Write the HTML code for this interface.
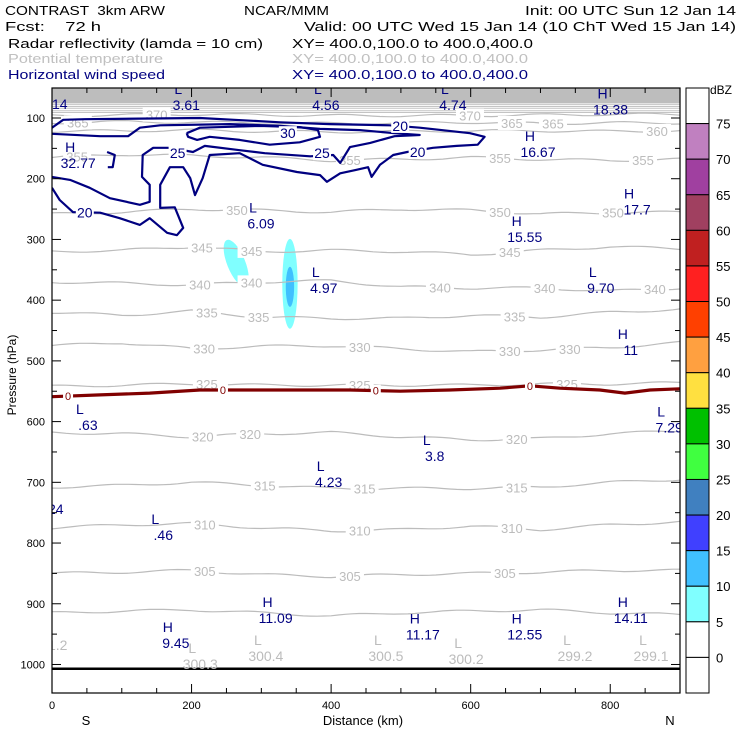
<!DOCTYPE html>
<html><head><meta charset="utf-8"><style>
html,body{margin:0;padding:0;background:#fff;}
svg{display:block;font-family:"Liberation Sans",sans-serif;}
</style></head><body>
<svg id="chart" width="740" height="740" viewBox="0 0 740 740" xmlns="http://www.w3.org/2000/svg">
<g font-size="13">
<text x="5" y="15" textLength="160" lengthAdjust="spacingAndGlyphs" xml:space="preserve" style="white-space:pre">CONTRAST  3km ARW</text>
<text x="244" y="15" textLength="85" lengthAdjust="spacingAndGlyphs">NCAR/MMM</text>
<text x="525" y="15" textLength="211" lengthAdjust="spacingAndGlyphs">Init: 00 UTC Sun 12 Jan 14</text>
<text x="5" y="31" textLength="96" lengthAdjust="spacingAndGlyphs" xml:space="preserve" style="white-space:pre">Fcst:    72 h</text>
<text x="304" y="31" textLength="432" lengthAdjust="spacingAndGlyphs">Valid: 00 UTC Wed 15 Jan 14 (10 ChT Wed 15 Jan 14)</text>
<text x="8" y="48" textLength="255" lengthAdjust="spacingAndGlyphs">Radar reflectivity (lamda = 10 cm)</text>
<text x="292" y="48" textLength="241" lengthAdjust="spacingAndGlyphs">XY= 400.0,100.0 to 400.0,400.0</text>
<text x="8" y="63" fill="#c0c0c0" textLength="155" lengthAdjust="spacingAndGlyphs">Potential temperature</text>
<text x="292" y="63" fill="#c0c0c0" textLength="236" lengthAdjust="spacingAndGlyphs">XY= 400.0,100.0 to 400.0,400.0</text>
<text x="8" y="79" fill="#000080" textLength="157" lengthAdjust="spacingAndGlyphs">Horizontal wind speed</text>
<text x="292" y="79" fill="#000080" textLength="236" lengthAdjust="spacingAndGlyphs">XY= 400.0,100.0 to 400.0,400.0</text>
</g>
<defs><clipPath id="plotclip"><rect x="52" y="88" width="628" height="605"/></clipPath></defs>
<g id="plot" clip-path="url(#plotclip)"></g>
<g id="axes"></g>
<g id="cbar"></g>
</svg>
<script>
// ---- data ----
const stationsKm = [0,100,200,300,400,500,600,700,800,900];
const thetaLevels = [370,365,360,355,350,345,340,335,330,325,320,315,310,305,300];
const thetaP370 = [96,95,94,95,96,96,96,95,94,94];
const thetaP365 = [108,106,107,108,109,108,107,109,108,108];
const thetaP360 = [122,121,120,122,123,122,121,121,122,121];
const thetaP355 = [165,160,162,165,170,168,165,168,170,168];
const thetaP350 = [258,255,250,252,255,250,252,258,256,255];
const thetaP345 = [320,318,312,320,318,320,325,318,312,315];
const thetaP340 = [370,372,375,370,368,378,380,380,385,380];
const thetaP335 = [420,425,418,428,430,430,425,428,420,415];
const thetaP330 = [475,470,480,476,475,480,485,482,478,470];
const thetaP325 = [542,540,538,540,540,540,540,538,538,536];
const thetaP320 = [618,620,625,620,618,625,630,628,620,615];
const thetaP315 = [708,705,700,705,710,710,710,708,700,695];
const thetaP310 = [775,770,768,775,780,778,772,778,770,765];
const thetaP305 = [850,848,845,852,855,852,850,848,845,845];
const thetaP300 = [915,912,910,915,920,915,912,910,915,918];
const thetaLabelKm = {370:[150,599],365:[37,659,718],360:[867],355:[36,427,642,847],350:[265,642,804],345:[215,286,656],340:[212,286,556,706,864],335:[222,296,663],330:[218,441,656,742],325:[222,441,738],320:[216,284,666],315:[305,448,666],310:[219,441,659],305:[219,427,649]};
const upperLineP = [78,81,84,88,91];
const wind20 = [[0,116],[16,103],[47,102],[212,100],[327,107],[398,110],[484,112],[527,116],[599,125],[620,131],[610,144],[580,146],[546,149],[509,156],[489,161],[470,177],[458,197],[453,181],[434,186],[413,191],[394,205],[384,194],[351,189],[302,177],[269,158],[226,161],[216,199],[205,227],[198,199],[188,181],[169,181],[155,210],[155,248],[176,247],[188,281],[179,293],[165,289],[140,265],[126,276],[97,265],[69,256],[30,255],[11,235],[0,215]];
const wind25 = [[0,197],[26,202],[54,215],[83,232],[126,243],[140,238],[140,210],[129,197],[130,161],[145,149],[169,149],[202,156],[219,146],[269,153],[305,158],[370,163],[403,161],[413,174],[427,148],[456,141],[491,130],[527,128],[491,125],[441,120],[384,118],[327,113],[255,110],[155,112],[126,116],[109,130],[69,130],[0,126]];
const wind30 = [[193,125],[212,116],[298,113],[355,115],[381,120],[384,131],[355,140],[312,144],[269,136],[226,131],[208,136],[195,131],[193,125]];
const wind30b = [[79,156],[90,161],[87,181],[80,181]];
const windLabels = [['30',338,125],['25',180,158],['25',387,158],['20',499,113],['20',524,156],['20',47,256]];
const freezeKm = [0,69,140,212,284,355,427,499,570,642,685,728,785,821,857,900];
const freezeP = [559,556,553,548,548,548,548,550,548,545,541,545,548,553,548,546];
const freezeLabelKm = [23,245,464,685];
const surfaceP = 1007;
const cellKm = [264,341,341];
const cellP = [339,373,378];
const cellRxKm = [13,11,6];
const cellRyP = [41,74,33];
const cellRot = [-22,0,0];
const cellDbz = [7,7,12];
const hlNavy = [['L','3.61',181,52],['L','4.56',381,52],['L','4.74',563,52],['H','18.38',789,60],['H','32.77',26,148],['H','16.67',685,130],['L','6.09',288,247],['H','15.55',666,270],['H','17.7',827,224],['L','4.97',378,354],['L','9.70',775,354],['H','11',818,456],['L','.63',40,579],['L','7.29',873,583],['L','3.8',537,630],['L','4.23',385,673],['L','.46',148,760],['H','11.09',309,897],['H','14.11',818,897],['H','11.17',520,924],['H','12.55',666,924],['H','9.45',166,938]];
const hlGray = [['L','300.3',201,973],['L','300.4',295,960],['L','300.5',467,960],['L','300.2',582,965],['L','299.2',738,960],['L','299.1',847,960]];
const pTicks = [100,200,300,400,500,600,700,800,900,1000];
const xTicks = [0,200,400,600,800];
const cbarLabels = [75,70,65,60,55,50,45,40,35,30,25,20,15,10,5,0];
const cbarColors = ['#ffffff','#c080c0','#a040a0','#a04060','#c02020','#ff2020','#ff4000','#ffa040','#ffe040','#00c000','#40ff40','#4080c0','#4040ff','#40c0ff','#80ffff','#ffffff','#ffffff'];

// ---- axes functions ----
const X0=52, X1=680, Y0=88, Y1=693;
function xs(km){return X0 + km*0.6978;}
function ys(p){return 118 + (p-100)*0.6072;}
const NS='http://www.w3.org/2000/svg';
function mk(tag, attrs, parent){const e=document.createElementNS(NS,tag);for(const k in attrs)e.setAttribute(k,attrs[k]);parent.appendChild(e);return e;}
const plot=document.getElementById('plot'), axes=document.getElementById('axes'), cbar=document.getElementById('cbar');
function interp(arr, km){const i=Math.min(8,Math.floor(km/100));const t=(km-stationsKm[i])/100;return arr[i]+(arr[i+1]-arr[i])*t;}
const thetaArrays={370:thetaP370,365:thetaP365,360:thetaP360,355:thetaP355,350:thetaP350,345:thetaP345,340:thetaP340,335:thetaP335,330:thetaP330,325:thetaP325,320:thetaP320,315:thetaP315,310:thetaP310,305:thetaP305,300:thetaP300};
function dbzColor(d){const i=16-Math.floor(d/5)-1;return cbarColors[Math.max(0,Math.min(16,i))];}

let band=mk('rect',{x:X0,y:Y0,width:X1-X0,height:ys(76)-Y0,fill:'#bdbdbd'},plot);


upperLineP.forEach(p=>{let l=mk('line',{x1:X0,x2:X1,y1:ys(p),y2:ys(p),stroke:'#c4c4c4','stroke-width':1},plot);

});

for(let i=0;i<cellKm.length;i++){
  const cx=xs(cellKm[i]), cy=ys(cellP[i]);
  const e=mk('ellipse',{cx:cx,cy:cy,rx:cellRxKm[i]*0.6978,ry:cellRyP[i]*0.6072,fill:dbzColor(cellDbz[i]),transform:`rotate(${cellRot[i]} ${cx} ${cy})`},plot);
  
  
}

thetaLevels.forEach(th=>{
  const arr=thetaArrays[th];
  const pts=[];for(let km=0;km<=900;km+=10)pts.push(xs(km).toFixed(1)+','+ys(interp(arr,km)+Math.sin(km/23+th)*2).toFixed(1));
  const pl=mk('polyline',{points:pts.join(' '),fill:'none',stroke:'#bcbcbc','stroke-width':1.2},plot);
  
  
});
thetaLevels.forEach(th=>{
  (thetaLabelKm[th]||[]).forEach(km=>{
    const x=xs(km), y=ys(interp(thetaArrays[th],km));
    const r=mk('rect',{x:x-14,y:y-7,width:28,height:14,fill:'#fff'},plot);
    
    
    const t=mk('text',{x:x,y:y+5,'text-anchor':'middle','font-size':13,fill:'#bcbcbc'},plot);
    t.textContent=th;
    
    
  });
});

{
  const pts=freezeKm.map((k,i)=>xs(k).toFixed(1)+','+ys(freezeP[i]).toFixed(1)).join(' ');
  const pl=mk('polyline',{points:pts,fill:'none',stroke:'#800000','stroke-width':3.2},plot);
  
  
  freezeLabelKm.forEach(km=>{
    let j=0;while(j<freezeKm.length-2&&freezeKm[j+1]<km)j++;
    const p=freezeP[j]+(freezeP[j+1]-freezeP[j])*(km-freezeKm[j])/(freezeKm[j+1]-freezeKm[j]);
    const r=mk('rect',{x:xs(km)-5,y:ys(p)-6,width:10,height:12,fill:'#fff'},plot);
    
    
    const t=mk('text',{x:xs(km),y:ys(p)+4,'text-anchor':'middle','font-size':11,fill:'#800000'},plot);
    t.textContent='0';
    
    
  });
}

[[wind20,'wind-contour-20'],[wind25,'wind-contour-25'],[wind30,'wind-contour-30'],[wind30b,'wind-contour-30-small']].forEach(([arr,name])=>{
  const pl=mk('polyline',{points:arr.map(d=>xs(d[0]).toFixed(1)+','+ys(d[1]).toFixed(1)).join(' '),fill:'none',stroke:'#000080','stroke-width':2.2,'stroke-linejoin':'round'},plot);
  
  
});
windLabels.forEach(([s,km,p])=>{
  const r=mk('rect',{x:xs(km)-9,y:ys(p)-7,width:18,height:14,fill:'#fff'},plot);
  
  
  const t=mk('text',{x:xs(km),y:ys(p)+5,'text-anchor':'middle','font-size':14,fill:'#000080'},plot);
  t.textContent=s;
  
  
});

{
  const l=mk('line',{x1:X0,x2:X1,y1:ys(surfaceP),y2:ys(surfaceP),stroke:'#000','stroke-width':2.5},plot);
  
  
}

function hl(list,color,nm){list.forEach(([L,v,km,p])=>{
  const x=xs(km), y=ys(p);
  const a=mk('text',{x:x,y:y+5,'text-anchor':'middle','font-size':14,fill:color},plot);
  a.textContent=L;
  
  
  const b=mk('text',{x:x+8,y:y+21,'text-anchor':'middle','font-size':14,fill:color},plot);
  b.textContent=v;
  
  
});}
hl(hlNavy,'#000080','wind-extremum');
hl(hlGray,'#bcbcbc','theta-extremum');
{
  let t=mk('text',{x:52,y:109,'font-size':14,fill:'#000080'},plot);t.textContent='14';
  
  
  t=mk('text',{x:48,y:514,'font-size':14,fill:'#000080'},plot);t.textContent='24';
  
  
  t=mk('text',{x:48,y:650,'font-size':14,fill:'#bcbcbc'},plot);t.textContent='1.2';
  
  
}

{
  const r=mk('rect',{x:X0,y:Y0,width:X1-X0,height:Y1-Y0,fill:'none',stroke:'#000','stroke-width':1.2},axes);
  
  
  for(let p=100;p<=1000;p+=50){
    const y=ys(p), len=(p%100===0)?9:5;
    let a=mk('line',{x1:X0,x2:X0+len,y1:y,y2:y,stroke:'#000'},axes);
    
    
    a=mk('line',{x1:X1-len,x2:X1,y1:y,y2:y,stroke:'#000'},axes);
    
    
  }
  pTicks.forEach(p=>{
    const t=mk('text',{x:X0-7,y:ys(p)+4,'text-anchor':'end','font-size':11},axes);
    t.textContent=p;
    
    
  });
  for(let km=0;km<=900;km+=50){
    const x=xs(km), len=(km%200===0)?9:5;
    let a=mk('line',{x1:x,x2:x,y1:Y1-len,y2:Y1,stroke:'#000'},axes);
    
    
    a=mk('line',{x1:x,x2:x,y1:Y0,y2:Y0+len,stroke:'#000'},axes);
    
    
  }
  xTicks.forEach(km=>{
    const t=mk('text',{x:xs(km),y:Y1+16,'text-anchor':'middle','font-size':11},axes);
    t.textContent=km;
    
    
  });
  let t=mk('text',{x:363,y:725,'text-anchor':'middle','font-size':13},axes);t.textContent='Distance (km)';
  
  
  t=mk('text',{x:86,y:725,'text-anchor':'middle','font-size':13},axes);t.textContent='S';
  
  
  t=mk('text',{x:670,y:725,'text-anchor':'middle','font-size':13},axes);t.textContent='N';
  
  
  t=mk('text',{x:0,y:0,'text-anchor':'middle','font-size':12,transform:'translate(16,375) rotate(-90)'},axes);t.textContent='Pressure (hPa)';
  
  
}

{
  const cx=686,cw=23,h=(Y1-Y0)/17;
  cbarColors.forEach((c,i)=>{
    const r=mk('rect',{x:cx,y:Y0+i*h,width:cw,height:h,fill:c,stroke:'#000','stroke-width':1},cbar);
    
    
  });
  cbarLabels.forEach((v,i)=>{
    const t=mk('text',{x:cx+cw+7,y:Y0+(i+1)*h+5,'font-size':13},cbar);
    t.textContent=v;
    
    
  });
  const t=mk('text',{x:cx+cw+1,y:Y0+6,'font-size':12},cbar);t.textContent='dBZ';
  
  
}
</script>
</body></html>
